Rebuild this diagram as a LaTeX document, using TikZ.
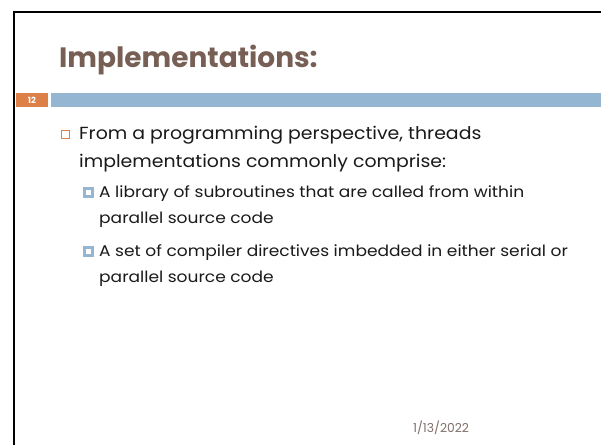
\documentclass[tikz,border=0pt]{standalone}
\usepackage{fontspec}
\setmainfont{Poppins}
\newfontfamily\lvlonefont[FakeStretch=1.08]{Poppins}
\newfontfamily\lvltwofont[FakeStretch=1.10]{Poppins}
\definecolor{titlebrown}{HTML}{775F55}
\definecolor{barblue}{HTML}{94B6D2}
\definecolor{barorange}{HTML}{DD8047}
\definecolor{datecol}{HTML}{7F6F6A}
\definecolor{bodytext}{HTML}{1A1A1A}
\tikzset{
  txt/.style={anchor=base west, inner sep=0pt, text=bodytext},
  lvlone/.style={txt, font=\lvlonefont\fontsize{17.5}{20}\selectfont},
  lvltwo/.style={txt, font=\lvltwofont\fontsize{15.5}{18}\selectfont},
  titlestyle/.style={anchor=base west, inner sep=0pt, text=titlebrown, font=\fontsize{28}{32}\selectfont\bfseries},
  bulletone/.style={draw=barorange, line width=1pt, fill=white, minimum size=8pt, inner sep=0pt},
  bullettwo/.style={draw=barblue, line width=2.4pt, fill=white, minimum size=8pt, inner sep=0pt},
}
\begin{document}
\begin{tikzpicture}[x=1pt,y=-1pt]
\useasboundingbox (0,0) rectangle (601,444);
\fill[white] (0,0) rectangle (601,444);
\draw[line width=2pt] (14,445) -- (14,12) -- (602,12);
\node[titlestyle] (title) at (59,67) {Implementations:};
\node[fill=barorange, anchor=north west, minimum width=32.5pt, minimum height=14pt, inner sep=0pt, text=white, font=\fontsize{8.5}{9}\selectfont\bfseries] (num) at (15.5,93) {12};
\node[fill=barblue, anchor=north west, minimum width=551pt, minimum height=14pt, inner sep=0pt] (bar) at (51,93) {};
\node[bulletone] (b1) at (65,134) {};
\node[lvlone] (l1) at (79,139) {From a programming perspective, threads};
\node[lvlone] (l2) at (79,167) {implementations commonly comprise:};
\node[bullettwo] (b2) at (88.5,192.5) {};
\node[lvltwo] (l3) at (99,197) {A library of subroutines that are called from within};
\node[lvltwo] (l4) at (99,223) {parallel source code};
\node[bullettwo] (b3) at (88.5,251.5) {};
\node[lvltwo] (l5) at (99,256) {A set of compiler directives imbedded in either serial or};
\node[lvltwo] (l6) at (99,282) {parallel source code};
\node[anchor=base west, inner sep=0pt, text=datecol, font=\fontsize{12.3}{13}\selectfont] (date) at (413,432) {1/13/2022};
\end{tikzpicture}
\end{document}
